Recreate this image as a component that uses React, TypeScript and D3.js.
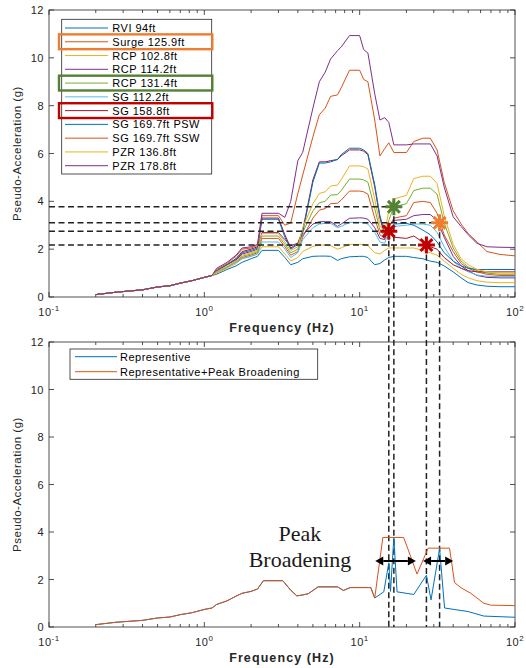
import React, { useEffect, useRef } from "react";
import * as d3 from "d3";

// ---- top chart: floor response spectra (Hz, g) ----
const freqs = [0.2, 0.27, 0.4, 0.5, 0.6, 0.7, 0.83, 1.0, 1.12, 1.2, 1.4, 1.6, 1.75, 2.0, 2.2, 2.35, 3.0, 3.3, 3.6, 4.0, 4.3, 5.0, 5.5, 6.0, 6.5, 7.2, 7.6, 8.6, 10.0, 10.6, 11.3, 12.5, 13.5, 14.5, 15.4, 16.6, 20.0, 22.3, 25.5, 28.5, 31.5, 35, 40, 45, 50, 57, 66, 80, 100];
// below ~1.1 Hz every curve is the same
const lowPart = [0.1, 0.2, 0.3, 0.42, 0.47, 0.58, 0.68, 0.82, 0.9];

const rvi94 = [...lowPart, 0.95, 1.15, 1.3, 1.45, 1.6, 1.7, 1.95, 1.95, 1.65, 1.35, 1.45, 1.6, 1.7, 1.71, 1.71, 1.7, 1.53, 1.6, 1.68, 1.7, 1.7, 1.65, 1.35, 1.4, 1.55, 1.65, 1.7, 1.7, 1.65, 1.6, 1.5, 1.45, 1.3, 1.05, 0.8, 0.6, 0.5, 0.45, 0.43, 0.43];
const surge126 = [...lowPart, 1.0, 1.25, 1.45, 1.65, 1.75, 1.85, 2.45, 2.45, 2.1, 1.75, 1.9, 2.5, 3.3, 3.63, 3.7, 3.9, 3.92, 4.05, 4.43, 4.43, 4.4, 4.3, 3.3, 2.6, 2.45, 2.9, 3.3, 3.4, 3.95, 4.0, 3.95, 3.5, 2.6, 1.9, 1.4, 1.2, 1.05, 0.95, 0.9, 0.9];
const rcp103 = [...lowPart, 1.0, 1.2, 1.4, 1.6, 1.7, 1.8, 2.1, 2.1, 1.8, 1.5, 1.65, 1.9, 2.12, 2.17, 2.17, 2.15, 2.0, 2.05, 2.2, 2.2, 2.2, 2.15, 1.85, 1.8, 1.95, 2.05, 2.05, 2.05, 2.05, 1.95, 1.85, 1.75, 1.5, 1.2, 0.95, 0.8, 0.68, 0.62, 0.6, 0.6];
const rcp114 = [...lowPart, 1.1, 1.35, 1.55, 1.8, 1.9, 2.0, 2.7, 2.7, 2.4, 2.15, 2.25, 2.6, 3.05, 3.15, 3.15, 3.15, 2.95, 3.05, 3.29, 3.31, 3.3, 3.25, 2.9, 2.45, 2.4, 3.0, 3.2, 3.25, 3.4, 3.45, 3.45, 3.2, 2.5, 1.7, 1.3, 1.1, 0.9, 0.82, 0.8, 0.8];
const rcp131 = [...lowPart, 1.05, 1.25, 1.5, 1.7, 1.8, 1.9, 2.55, 2.55, 2.2, 1.85, 2.0, 2.7, 3.6, 3.94, 4.0, 4.26, 4.28, 4.45, 4.93, 4.93, 4.9, 4.8, 3.7, 2.8, 2.55, 3.2, 3.77, 3.9, 4.45, 4.55, 4.55, 4.3, 3.1, 2.05, 1.5, 1.25, 1.1, 1.0, 0.95, 0.95];
const sg112 = [...lowPart, 1.05, 1.25, 1.45, 1.6, 1.7, 1.8, 2.3, 2.3, 2.0, 1.65, 1.85, 2.4, 2.9, 3.05, 3.08, 3.08, 2.9, 2.95, 3.12, 3.12, 3.1, 3.05, 2.7, 2.3, 2.25, 2.8, 2.95, 3.0, 3.05, 3.05, 3.0, 2.7, 2.1, 1.5, 1.2, 1.05, 0.92, 0.87, 0.85, 0.85];
const sg159 = [...lowPart, 1.1, 1.35, 1.6, 1.9, 2.0, 2.1, 3.3, 3.3, 2.6, 2.05, 2.25, 2.8, 4.9, 5.65, 5.65, 5.7, 5.75, 5.9, 6.15, 6.15, 6.1, 5.95, 4.6, 3.3, 2.58, 2.75, 2.5, 2.45, 2.55, 2.3, 2.1, 2.0, 1.65, 1.35, 1.2, 1.1, 1.05, 1.05, 1.05, 1.05];
const sg170psw = [...lowPart, 1.1, 1.35, 1.6, 1.85, 1.95, 2.05, 3.25, 3.25, 2.5, 2.0, 2.2, 2.7, 4.8, 5.6, 5.6, 5.65, 5.75, 5.95, 6.22, 6.22, 6.15, 6.0, 4.7, 3.4, 2.7, 2.85, 3.05, 3.08, 3.0, 2.8, 2.6, 2.3, 1.85, 1.5, 1.3, 1.2, 1.15, 1.15, 1.15, 1.15];
const sg170ssw = [...lowPart, 1.15, 1.4, 1.7, 2.0, 2.05, 2.15, 3.4, 3.4, 3.0, 3.1, 4.33, 5.1, 6.7, 7.62, 7.9, 8.39, 8.45, 8.74, 9.48, 9.48, 9.1, 9.0, 7.4, 5.9, 6.2, 6.45, 6.04, 6.04, 6.5, 6.64, 6.64, 6.15, 4.8, 3.6, 3.05, 2.65, 2.3, 1.9, 1.78, 1.72];
const pzr137 = [...lowPart, 1.05, 1.3, 1.5, 1.75, 1.85, 1.95, 2.65, 2.65, 2.3, 1.95, 2.1, 2.9, 3.9, 4.33, 4.4, 4.64, 4.68, 4.9, 5.48, 5.48, 5.45, 5.35, 4.1, 3.0, 2.7, 3.6, 4.1, 4.25, 4.95, 5.05, 5.05, 4.75, 3.4, 2.2, 1.6, 1.35, 1.15, 1.05, 1.0, 1.0];
const pzr179 = [...lowPart, 1.2, 1.45, 1.75, 2.05, 2.1, 2.2, 3.5, 3.5, 3.33, 4.0, 5.7, 6.05, 7.9, 9.0, 9.4, 9.95, 10.3, 10.45, 10.93, 10.93, 10.35, 10.2, 8.5, 7.4, 7.5, 7.3, 6.36, 6.36, 6.4, 6.4, 6.4, 5.9, 4.6, 3.35, 2.95, 2.6, 2.24, 2.1, 2.08, 2.07];

const seriesNames = ["RVI 94ft", "Surge 125.9ft", "RCP 102.8ft", "RCP 114.2ft", "RCP 131.4ft", "SG 112.2ft", "SG 158.8ft", "SG 169.7ft PSW", "SG 169.7ft SSW", "PZR 136.8ft", "PZR 178.8ft"];
const seriesValues = [rvi94, surge126, rcp103, rcp114, rcp131, sg112, sg159, sg170psw, sg170ssw, pzr137, pzr179];
const seriesColors = ["#0072BD", "#D95319", "#EDB120", "#7E2F8E", "#77AC30", "#4DBEEE", "#A2142F", "#0072BD", "#D95319", "#EDB120", "#7E2F8E"];
const boxedRows = [1, 4, 6];
const boxColors = ["#ED7D31", "#548235", "#C00000"];

// picked peaks (star markers)
const peakFreq = [16.6, 32.7, 15.4, 26.9];
const peakAcc = [3.77, 3.1, 2.75, 2.17];
const peakColors = ["#548235", "#ED7D31", "#C00000", "#C00000"];

// ---- bottom chart ----
const botLowFreq = [0.2, 0.27, 0.4, 0.5, 0.6, 0.7, 0.83, 1.0, 1.12, 1.2, 1.4, 1.6, 1.75, 2.0, 2.2, 2.4, 3.2, 3.6, 3.94, 4.3, 4.66, 5.4, 7.2, 7.86, 8.7, 11.8, 12.5];
const botLowAcc = [0.1, 0.2, 0.28, 0.38, 0.42, 0.52, 0.6, 0.74, 0.8, 0.95, 1.1, 1.3, 1.42, 1.5, 1.6, 1.95, 1.95, 1.55, 1.31, 1.35, 1.4, 1.69, 1.69, 1.54, 1.66, 1.66, 1.22];
const repFreq = [...botLowFreq, 14.3, 15.4, 15.8, 16.6, 17.4, 22.3, 26.9, 28.8, 32.7, 35.2, 50, 63, 100];
const repAcc = [...botLowAcc, 1.48, 2.7, 1.5, 3.77, 1.48, 1.37, 2.18, 1.14, 3.3, 0.8, 0.65, 0.46, 0.41];
const broadFreq = [...botLowFreq, 14.1, 19.2, 23.4, 27.6, 37.9, 40.8, 45, 51.9, 63, 69.6, 100];
const broadAcc = [...botLowAcc, 3.77, 3.77, 2.23, 3.32, 3.32, 1.87, 1.65, 1.42, 1.0, 0.92, 0.9];
const botNames = ["Representive", "Representative+Peak Broadening"];
const botColors = ["#0072BD", "#D95319"];
const arrowSpans = [[12.6, 23.0], [25.6, 40.0]];
const arrowLevel = 2.78;

const yTicks = [0, 2, 4, 6, 8, 10, 12];
const sans = "'Liberation Sans', Arial, Helvetica, sans-serif";
const ink = "#262626";
const fs = 11;
const ls = 0.5;

export default function App() {
  const ref = useRef<SVGSVGElement>(null);

  useEffect(() => {
    const svg = d3.select(ref.current);
    svg.selectAll("*").remove();

    const x = d3.scaleLog().domain([0.1, 100]).range([49, 515]);
    const yTop = d3.scaleLinear().domain([0, 12]).range([297, 10]);
    const yBot = d3.scaleLinear().domain([0, 12]).range([627, 342]);

    const majors = [0.1, 1, 10, 100];
    const minors = d3.range(-1, 2).flatMap((e) => d3.range(2, 10).map((m) => m * Math.pow(10, e)));

    const drawAxes = (y: any) => {
      const [x0, x1] = x.range();
      const [yb, yt] = y.range();
      const g = svg.append("g");
      g.append("rect").attr("x", x0).attr("y", yt).attr("width", x1 - x0).attr("height", yb - yt)
        .attr("fill", "none").attr("stroke", ink).attr("stroke-width", 0.8);
      // inward ticks, top and bottom
      [[majors, 5], [minors, 3]].forEach(([vals, len]: any) => {
        g.selectAll(null).data(vals).enter().append("path")
          .attr("d", (d: number) => `M${x(d)},${yb}v${-len}M${x(d)},${yt}v${len}`)
          .attr("stroke", ink).attr("stroke-width", 0.8);
      });
      g.selectAll(null).data(yTicks).enter().append("path")
        .attr("d", (d) => `M${x0},${y(d)}h5M${x1},${y(d)}h-5`)
        .attr("stroke", ink).attr("stroke-width", 0.8);
      g.selectAll(null).data(yTicks).enter().append("text")
        .attr("x", x0 - 5).attr("y", (d) => y(d) + 4).attr("text-anchor", "end")
        .attr("font-family", sans).attr("font-size", fs).attr("letter-spacing", ls).attr("fill", ink)
        .text((d) => d);
      const lab = g.selectAll(null).data(majors).enter().append("text")
        .attr("x", (d) => x(d)).attr("y", yb + 19).attr("text-anchor", "middle")
        .attr("font-family", sans).attr("font-size", fs).attr("letter-spacing", ls).attr("fill", ink);
      lab.append("tspan").text("10");
      lab.append("tspan").attr("dy", -5).attr("font-size", 8).text((d) => Math.round(Math.log10(d)));
      g.append("text").attr("x", (x0 + x1) / 2).attr("y", yb + 35).attr("text-anchor", "middle")
        .attr("font-family", sans).attr("font-size", 12.5).attr("font-weight", "bold").attr("letter-spacing", 1.1).attr("fill", ink)
        .text("Frequency (Hz)");
      g.append("text").attr("transform", `translate(21,${(yb + yt) / 2}) rotate(-90)`).attr("text-anchor", "middle")
        .attr("font-family", sans).attr("font-size", 11.5).attr("letter-spacing", ls).attr("fill", ink)
        .text("Pseudo-Acceleration (g)");
    };

    drawAxes(yTop);
    drawAxes(yBot);

    // top curves
    const lineTop = d3.line<number>().x((_, i) => x(freqs[i])).y((d) => yTop(d));
    svg.append("g").selectAll("path").data(seriesValues).enter().append("path")
      .attr("d", (d) => lineTop(d)).attr("fill", "none")
      .attr("stroke", (_, i) => seriesColors[i]).attr("stroke-width", 1);

    // dashed guide lines from the picked peaks
    const guides = svg.append("g").attr("stroke", "#222").attr("stroke-width", 1.5).attr("stroke-dasharray", "6,3.5").attr("fill", "none");
    peakFreq.forEach((f, i) => {
      guides.append("path").attr("d", `M${x(0.1)},${yTop(peakAcc[i])}H${x(f)}`);
      guides.append("path").attr("d", `M${x(f)},${yTop(peakAcc[i])}V${yBot(0)}`);
    });

    // star markers
    const r = 8.5, k = r * 0.7;
    svg.append("g").selectAll("path").data(peakFreq).enter().append("path")
      .attr("d", (f, i) => {
        const cx = x(f), cy = yTop(peakAcc[i]);
        return `M${cx - r},${cy}H${cx + r}M${cx},${cy - r}V${cy + r}M${cx - k},${cy - k}L${cx + k},${cy + k}M${cx - k},${cy + k}L${cx + k},${cy - k}`;
      })
      .attr("stroke", (_, i) => peakColors[i]).attr("stroke-width", 3).attr("fill", "none");

    // top legend
    const leg = svg.append("g");
    leg.append("rect").attr("x", 61.7).attr("y", 19.3).attr("width", 150).attr("height", 154.7)
      .attr("fill", "#fff").attr("stroke", ink).attr("stroke-width", 0.8);
    seriesNames.forEach((name, i) => {
      const cy = 28 + i * 13.77;
      leg.append("line").attr("x1", 65).attr("x2", 108).attr("y1", cy).attr("y2", cy)
        .attr("stroke", seriesColors[i]).attr("stroke-width", 1);
      leg.append("text").attr("x", 112.3).attr("y", cy + 4)
        .attr("font-family", sans).attr("font-size", fs).attr("letter-spacing", ls).attr("fill", "#000").text(name);
    });
    boxedRows.forEach((row, j) => {
      const cy = 28 + row * 13.77;
      leg.append("rect").attr("x", 59).attr("y", cy - 7.4).attr("width", 153.3).attr("height", 14.8)
        .attr("fill", "none").attr("stroke", boxColors[j]).attr("stroke-width", 2.4);
    });

    // bottom curves
    const lineBot = d3.line<[number, number]>().x((d) => x(d[0])).y((d) => yBot(d[1]));
    const botData = [d3.zip(repFreq, repAcc), d3.zip(broadFreq, broadAcc)] as [number, number][][];
    svg.append("g").selectAll("path").data(botData).enter().append("path")
      .attr("d", (d) => lineBot(d)).attr("fill", "none")
      .attr("stroke", (_, i) => botColors[i]).attr("stroke-width", 1);

    // bottom legend
    const leg2 = svg.append("g");
    leg2.append("rect").attr("x", 70).attr("y", 349).attr("width", 247.7).attr("height", 30.3)
      .attr("fill", "#fff").attr("stroke", ink).attr("stroke-width", 0.8);
    botNames.forEach((name, i) => {
      const cy = 356.7 + i * 15;
      leg2.append("line").attr("x1", 75).attr("x2", 117).attr("y1", cy).attr("y2", cy)
        .attr("stroke", botColors[i]).attr("stroke-width", 1);
      leg2.append("text").attr("x", 120).attr("y", cy + 4)
        .attr("font-family", sans).attr("font-size", fs).attr("letter-spacing", ls).attr("fill", "#000").text(name);
    });

    // broadening arrows
    const ay = yBot(arrowLevel);
    const head = 8, hw = 4.5;
    const arr = svg.append("g");
    arrowSpans.forEach(([a, b]) => {
      const xa = x(a), xb = x(b);
      arr.append("line").attr("x1", xa + head).attr("x2", xb - head).attr("y1", ay).attr("y2", ay)
        .attr("stroke", "#000").attr("stroke-width", 2);
      arr.append("path").attr("d", `M${xa},${ay}L${xa + head},${ay - hw}L${xa + head},${ay + hw}Z`).attr("fill", "#000");
      arr.append("path").attr("d", `M${xb},${ay}L${xb - head},${ay - hw}L${xb - head},${ay + hw}Z`).attr("fill", "#000");
    });
    const note = svg.append("text").attr("text-anchor", "middle")
      .attr("font-family", "'Liberation Serif', 'Times New Roman', serif").attr("font-size", 22).attr("fill", "#1a1a1a");
    note.append("tspan").attr("x", 300).attr("y", 540.7).text("Peak");
    note.append("tspan").attr("x", 300).attr("y", 566.7).text("Broadening");
  }, []);

  return (
    <svg ref={ref} width={526} height={668}
      style={{ position: "absolute", left: 0, top: 0, background: "#fff" }} />
  );
}
